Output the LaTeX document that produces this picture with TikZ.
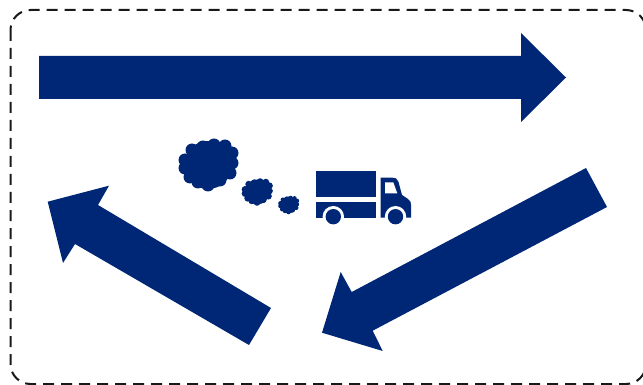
\documentclass[tikz,border=0pt]{standalone}
\definecolor{RouteBlue}{RGB}{0,39,118}
\tikzset{route/.style={fill=RouteBlue,draw=none}, frameline/.style={draw=black!90,line width=2pt,dash pattern=on 11pt off 7pt,rounded corners=20pt}, gapline/.style={fill=white,draw=none}}

\begin{document}
\begin{tikzpicture}[x=1pt,y=-1pt]
\clip (0,0) rectangle (643,385);
\draw[frameline] (10.5,10) rectangle (646,384);
% arrows
\fill[route] (39,56) -- (521,56) -- (521,33) -- (566,77.5) -- (521,122) -- (521,99) -- (39,99) -- cycle;
\fill[route] (586,168) -- (351.7,292) -- (340.7,272) -- (322,332.7) -- (382.7,351) -- (372.7,330.7) -- (607,207) -- cycle;
\fill[route] (271,308) -- (98,205) -- (109,185.7) -- (47.7,201.7) -- (63,263) -- (75,244) -- (249,345) -- cycle;
% smoke
\foreach \puffx/\puffy/\puffs in {208/165/1, 257/192/.52, 288.5/205/.35}{
\begin{scope}[shift={(\puffx,\puffy)},scale=\puffs]
\fill[route] (0,0) circle (24);
\foreach \bx/\by in {-16/-15,-5/-18,6/-20,17/-19,24/-12,24/-2,22/8,12/15,0/20,-10/17,-18/12,-23/3,-23/-5}
\fill[route] (\bx,\by) circle (6.5);
\end{scope}
}
% truck
\fill[route] (315.7,170.7) rectangle (376,197.3);
\fill[route] (315.7,201.7) rectangle (376,217.7);
\fill[route] (380.7,217.7) -- (380.7,177.7) -- (392,177.7) .. controls (396,177.7) and (397.5,179) .. (398.5,182) -- (402,195) -- (408,199) .. controls (410.5,201) and (411,202) .. (411,205) -- (411,217.7) -- cycle;
\fill[gapline] (385,182.3) -- (393.3,182.3) -- (397.3,193.3) -- (385,193.3) -- cycle;
\fill[gapline] (333.3,216.7) circle (10.7);
\fill[gapline] (395.5,216.7) circle (10.7);
\fill[route] (333.3,216.7) circle (7.7);
\fill[route] (395.5,216.7) circle (7.7);
\end{tikzpicture}
\end{document}
